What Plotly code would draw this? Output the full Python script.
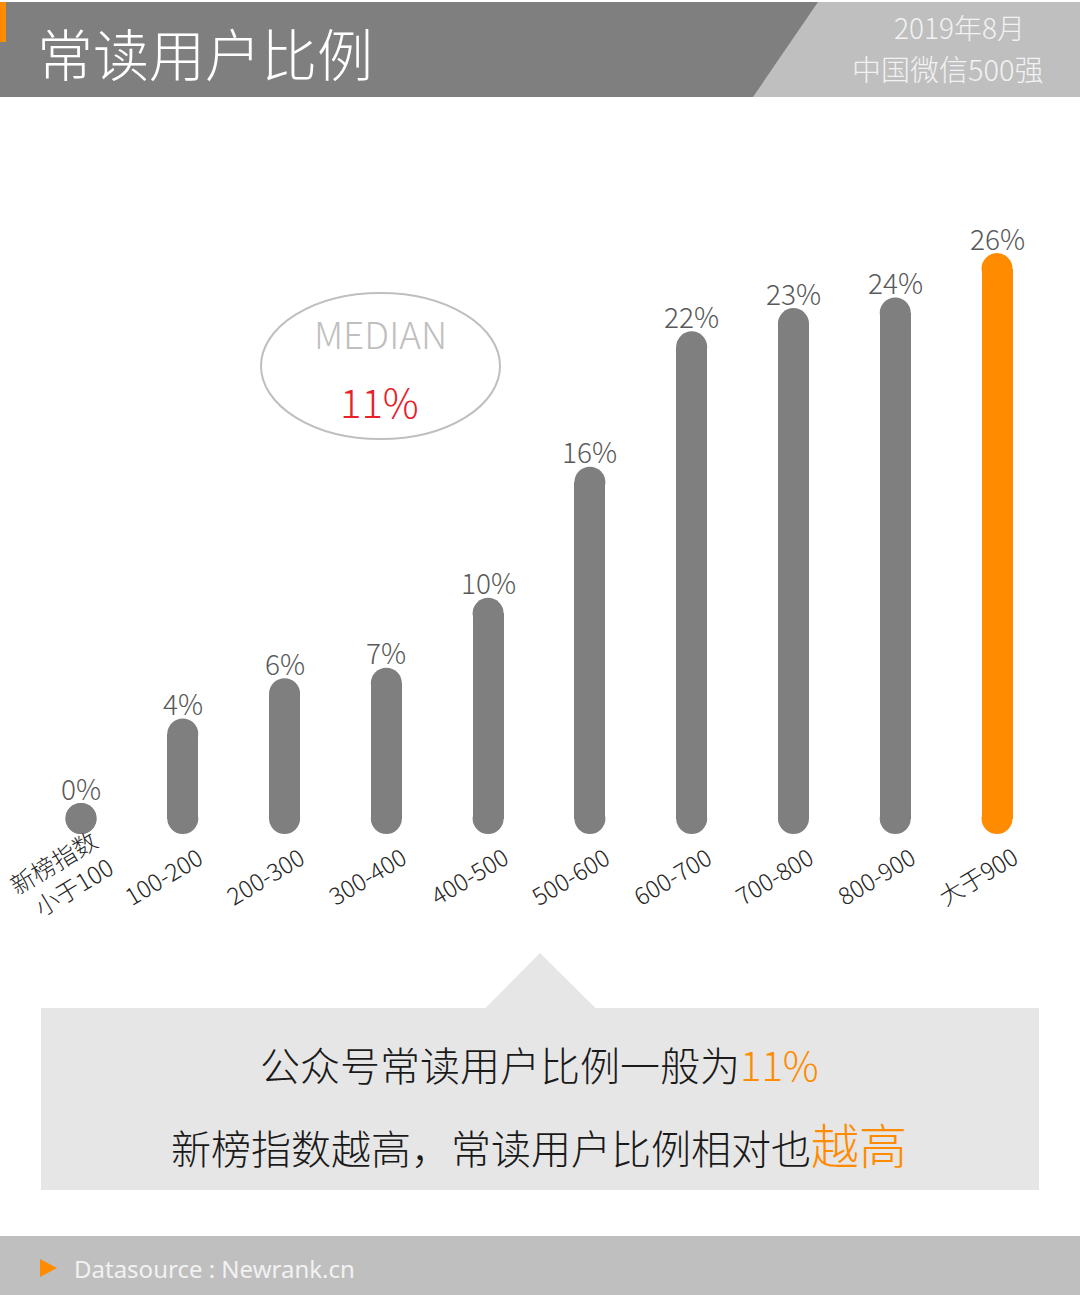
import plotly.graph_objects as go

# ---------------- data ----------------
categories = ["新榜指数<br>小于100", "100-200", "200-300", "300-400", "400-500",
              "500-600", "600-700", "700-800", "800-900", "大于900"]
values = [0.0, 4.0, 5.9, 6.4, 9.7, 15.9, 22.3, 23.4, 23.9, 26.0]
value_labels = ["0%", "4%", "6%", "7%", "10%", "16%", "22%", "23%", "24%", "26%"]
highlight_index = 9
median_label = "11%"

title_text = "常读用户比例"
subtitle_lines = ["2019年8月", "中国微信500强"]
summary_line1 = ("公众号常读用户比例一般为", "11%")
summary_line2 = ("新榜指数越高，常读用户比例相对也", "越高")
source_text = "Datasource : Newrank.cn"

# ---------------- style ----------------
W, H = 1080, 1295
GRAY = "#7f7f7f"
LIGHT = "#bfbfbf"
ORANGE = "#ff8b00"
BOX = "#e6e6e6"
FONT = "Noto Sans CJK SC"

def px(x):
    return x / W

def py(y):
    return 1 - y / H

colors = [ORANGE if i == highlight_index else GRAY for i in range(len(values))]
xs = list(range(len(values)))

fig = go.Figure()
fig.add_trace(go.Bar(x=xs, y=values, base=0, width=0.305,
                     marker=dict(color=colors, line=dict(width=0)),
                     hoverinfo="skip", showlegend=False))
# rounded caps
fig.add_trace(go.Scatter(x=xs, y=[0] * len(values), mode="markers",
                         marker=dict(size=31, color=colors, line=dict(width=0)),
                         hoverinfo="skip", showlegend=False))
fig.add_trace(go.Scatter(x=xs, y=values, mode="markers",
                         marker=dict(size=31, color=colors, line=dict(width=0)),
                         hoverinfo="skip", showlegend=False))

annotations = []
# value labels
for i, (v, lab) in enumerate(zip(values, value_labels)):
    annotations.append(dict(x=i, y=v, xref="x", yref="y", text=lab, showarrow=False,
                            yshift=31, xanchor="center", yanchor="middle",
                            font=dict(family=FONT, size=28, color="#595959", weight=300)))
# category labels
for i, c in enumerate(categories):
    annotations.append(dict(x=i, y=py(875), xref="x", yref="paper", text=c, showarrow=False,
                            xshift=-20, textangle=-31, align="right",
                            xanchor="center", yanchor="middle",
                            font=dict(family=FONT, size=24, color="#262626", weight=300)))

# header texts
annotations.append(dict(x=px(35), y=py(52), xref="paper", yref="paper", text=title_text,
                        showarrow=False, xanchor="left", yanchor="middle",
                        font=dict(family=FONT, size=56, color="#ffffff", weight=300)))
annotations.append(dict(x=px(959), y=py(27), xref="paper", yref="paper", text=subtitle_lines[0],
                        showarrow=False, xanchor="center", yanchor="middle",
                        font=dict(family=FONT, size=28, color="#f2f2f2", weight=300)))
annotations.append(dict(x=px(948), y=py(68), xref="paper", yref="paper", text=subtitle_lines[1],
                        showarrow=False, xanchor="center", yanchor="middle",
                        font=dict(family=FONT, size=29, color="#f2f2f2", weight=300)))

# median bubble
annotations.append(dict(x=px(380), y=py(333), xref="paper", yref="paper", text="MEDIAN",
                        showarrow=False, xanchor="center", yanchor="middle",
                        font=dict(family=FONT, size=37, color=LIGHT, weight=300)))
annotations.append(dict(x=px(379), y=py(401), xref="paper", yref="paper", text=median_label,
                        showarrow=False, xanchor="center", yanchor="middle",
                        font=dict(family=FONT, size=40, color="#e8202a", weight=300)))

# summary box texts
annotations.append(dict(x=px(539), y=py(1064), xref="paper", yref="paper",
                        text=summary_line1[0] + '<span style="color:%s">%s</span>' % (ORANGE, summary_line1[1]),
                        showarrow=False, xanchor="center", yanchor="middle",
                        font=dict(family=FONT, size=40, color="#1a1a1a", weight=300)))
annotations.append(dict(x=px(539), y=py(1143), xref="paper", yref="paper",
                        text=summary_line2[0] + '<span style="color:%s;font-size:48px">%s</span>' % (ORANGE, summary_line2[1]),
                        showarrow=False, xanchor="center", yanchor="middle",
                        font=dict(family=FONT, size=40, color="#1a1a1a", weight=300)))

# footer text
annotations.append(dict(x=px(72), y=py(1268), xref="paper", yref="paper", text=source_text,
                        showarrow=False, xanchor="left", yanchor="middle",
                        font=dict(family="Noto Sans", size=24, color="#f2f2f2")))

shapes = [
    # header band
    dict(type="rect", xref="paper", yref="paper", x0=0, x1=1, y0=py(97), y1=py(2),
         fillcolor=GRAY, line=dict(width=0), layer="below"),
    dict(type="path", xref="paper", yref="paper",
         path="M %f,%f L %f,%f L %f,%f L %f,%f Z" % (px(818), py(2), 1, py(2), 1, py(97), px(753), py(97)),
         fillcolor=LIGHT, line=dict(width=0), layer="below"),
    dict(type="rect", xref="paper", yref="paper", x0=0, x1=px(6), y0=py(42), y1=py(2),
         fillcolor=ORANGE, line=dict(width=0), layer="below"),
    # median ellipse
    dict(type="circle", xref="paper", yref="paper", x0=px(261), x1=px(500), y0=py(439), y1=py(293),
         line=dict(color=LIGHT, width=2), fillcolor="rgba(0,0,0,0)", layer="above"),
    # callout box
    dict(type="rect", xref="paper", yref="paper", x0=px(41), x1=px(1039), y0=py(1190), y1=py(1008),
         fillcolor=BOX, line=dict(width=0), layer="below"),
    dict(type="path", xref="paper", yref="paper",
         path="M %f,%f L %f,%f L %f,%f Z" % (px(485), py(1008.5), px(540), py(953), px(596), py(1008.5)),
         fillcolor=BOX, line=dict(width=0), layer="below"),
    # footer
    dict(type="rect", xref="paper", yref="paper", x0=0, x1=1, y0=0, y1=py(1236),
         fillcolor=LIGHT, line=dict(width=0), layer="below"),
    dict(type="path", xref="paper", yref="paper",
         path="M %f,%f L %f,%f L %f,%f Z" % (px(40), py(1259), px(57), py(1268), px(40), py(1277)),
         fillcolor=ORANGE, line=dict(width=0), layer="below"),
]

# axis mapping: 21.15 px per percentage point, 0 at y=818.5; categories 101.78 px apart, first at x=81
ppu = 21.15
y_min = -(H - 818.5) / ppu
y_max = y_min + H / ppu
cat_px = 101.78
x_min = -81 / cat_px
x_max = x_min + W / cat_px

fig.update_layout(
    width=W, height=H,
    margin=dict(l=0, r=0, t=0, b=0),
    paper_bgcolor="#ffffff", plot_bgcolor="rgba(0,0,0,0)",
    xaxis=dict(range=[x_min, x_max], visible=False, fixedrange=True),
    yaxis=dict(range=[y_min, y_max], visible=False, fixedrange=True),
    bargap=0, showlegend=False,
    annotations=annotations, shapes=shapes,
)

fig.write_html("out.html", post_script="document.body.style.margin='0';",
               config={"displayModeBar": False})
